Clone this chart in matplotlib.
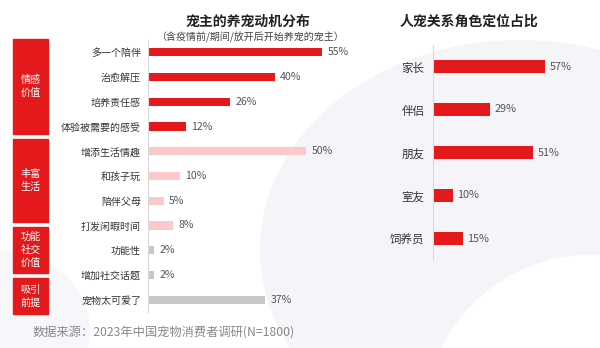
import matplotlib.pyplot as plt
from matplotlib.patches import Rectangle, Ellipse

plt.rcParams['font.family'] = ['Noto Sans CJK SC', 'DejaVu Sans']

# left chart data
motives = ["多一个陪伴", "治愈解压", "培养责任感", "体验被需要的感受",
           "增添生活情趣", "和孩子玩", "陪伴父母", "打发闲暇时间",
           "功能性", "增加社交话题", "宠物太可爱了"]
motive_pct = [55, 40, 26, 12, 50, 10, 5, 8, 2, 2, 37]
motive_group = [0, 0, 0, 0, 1, 1, 1, 1, 2, 2, 3]
groups = ["情感\n价值", "丰富\n生活", "功能\n社交\n价值", "吸引\n前提"]
group_colors = ["#E3191C", "#FBC9C9", "#C8C8C8", "#C8C8C8"]

# right chart data
roles = ["家长", "伴侣", "朋友", "室友", "饲养员"]
role_pct = [57, 29, 51, 10, 15]

W, H = 600, 348
fig = plt.figure(figsize=(6, 3.48), dpi=100)
fig.patch.set_facecolor("white")

def fx(px):
    return px / W

def fy(py):
    return 1 - py / H

# faint background shapes
bg = fig.add_axes([0, 0, 1, 1], zorder=-10)
bg.set_xlim(0, W)
bg.set_ylim(H, 0)
bg.axis("off")
bg.add_patch(Ellipse((520, 250), 520, 420, color="#F5F4F8", lw=0))
bg.add_patch(Ellipse((590, 420), 330, 330, color="white", lw=0))
bg.add_patch(Ellipse((0, 330), 180, 160, color="#F7F6FA", lw=0))

label_color = "#333333"
val_color = "#555555"
axis_color = "#D9D9D9"

# ---- left
ax = fig.add_axes([fx(148), fy(312), fx(190), 272 / H])
ypos = list(range(len(motives)))
colors = [group_colors[g] for g in motive_group]
ax.barh(ypos, motive_pct, height=0.33, color=colors)
ax.set_ylim(len(motives) - 0.5, -0.5)
ax.set_xlim(0, 60)
for s in ["top", "right", "bottom"]:
    ax.spines[s].set_visible(False)
ax.spines["left"].set_color(axis_color)
ax.set_xticks([])
ax.set_yticks(ypos)
ax.set_yticklabels(motives, fontsize=7.2, color=label_color)
ax.tick_params(axis="y", length=0, pad=5)
ax.patch.set_alpha(0)
for y, v in zip(ypos, motive_pct):
    ax.text(v + 1.7, y, f"{v}%", va="center", ha="left", fontsize=7.6, color=val_color)

# group boxes
box_rows = [(39, 134), (139, 222), (227, 273), (278, 314)]
for (top, bot), name in zip(box_rows, groups):
    fig.patches.append(Rectangle((fx(13), fy(bot)), fx(35), (bot - top) / H,
                                 transform=fig.transFigure, color="#E3191C"))
    fig.text(fx(30.5), fy((top + bot) / 2), name, ha="center", va="center",
             fontsize=7.3, color="white", linespacing=1.35)

fig.text(fx(248), fy(22), "宠主的养宠动机分布", ha="center", va="center",
         fontsize=10, fontweight="bold", color="#222222")
fig.text(fx(250), fy(37), "（含疫情前/期间/放开后开始养宠的宠主）", ha="center", va="center",
         fontsize=7.2, color="#444444")

# ---- right
ax2 = fig.add_axes([fx(433), fy(260), fx(120), 215 / H])
rpos = list(range(len(roles)))
ax2.barh(rpos, role_pct, height=0.3, color="#E3191C")
ax2.set_ylim(len(roles) - 0.5, -0.5)
ax2.set_xlim(0, 61)
for s in ["top", "right", "bottom"]:
    ax2.spines[s].set_visible(False)
ax2.spines["left"].set_color(axis_color)
ax2.set_xticks([])
ax2.set_yticks(rpos)
ax2.set_yticklabels(roles, fontsize=8.3, color=label_color)
ax2.tick_params(axis="y", length=0, pad=6)
ax2.patch.set_alpha(0)
for y, v in zip(rpos, role_pct):
    ax2.text(v + 2.2, y, f"{v}%", va="center", ha="left", fontsize=7.8, color=val_color)

fig.text(fx(469), fy(22), "人宠关系角色定位占比", ha="center", va="center",
         fontsize=10, fontweight="bold", color="#222222")

fig.text(fx(33), fy(332), "数据来源：2023年中国宠物消费者调研(N=1800)", ha="left", va="center",
         fontsize=8.8, color="#888888")

fig.savefig("out.png", dpi=100)
